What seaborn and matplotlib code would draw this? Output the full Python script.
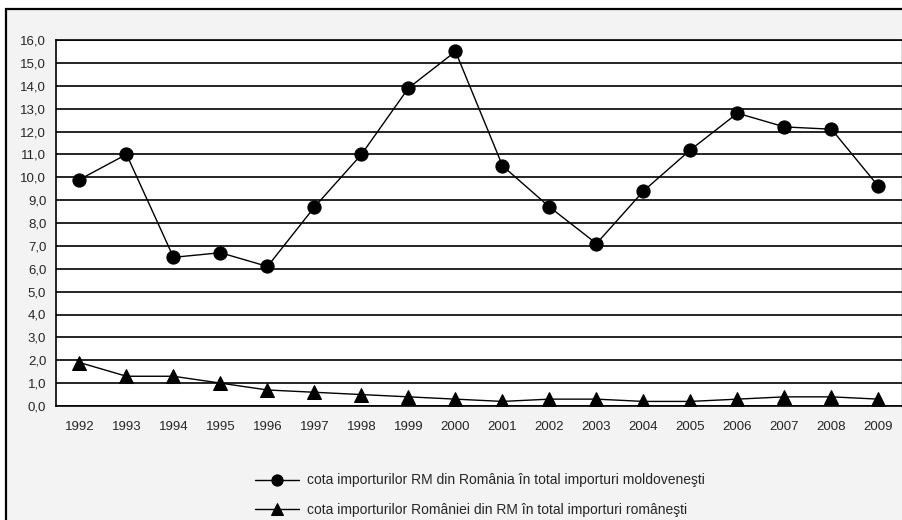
import numpy as np
import pandas as pd
import matplotlib
matplotlib.use("Agg")
import matplotlib.pyplot as plt
import seaborn as sns
from matplotlib.patches import Rectangle

years = [str(y) for y in range(1992, 2010)]
cota_rm = [9.9, 11.0, 6.5, 6.7, 6.1, 8.7, 11.0, 13.9, 15.5, 10.5,
           8.7, 7.1, 9.4, 11.2, 12.8, 12.2, 12.1, 9.6]
cota_ro = [1.9, 1.3, 1.3, 1.0, 0.7, 0.6, 0.5, 0.4, 0.3, 0.2,
           0.3, 0.3, 0.2, 0.2, 0.3, 0.4, 0.4, 0.3]
label_rm = "cota importurilor RM din România în total importuri moldoveneşti"
label_ro = "cota importurilor României din RM în total importuri româneşti"

sns.set_style("white")
plt.rcParams['font.family'] = ['Liberation Sans', 'DejaVu Sans']

fig = plt.figure(figsize=(9.03, 5.2), dpi=100, facecolor="white")
fig.patches.append(Rectangle((6/903, -0.05), 1.0, 1.05 - 9/520,
                             transform=fig.transFigure, facecolor="#f3f3f3",
                             edgecolor="black", linewidth=1.6, zorder=-10))
ax = fig.add_axes([56/903, 1 - 406/520, 846/903, 366/520])
ax.set_facecolor("white")

x = np.arange(len(years))
df = pd.DataFrame({"x": np.concatenate([x, x]),
                   "val": cota_rm + cota_ro,
                   "serie": [label_rm] * len(x) + [label_ro] * len(x)})

sns.lineplot(data=df, x="x", y="val", hue="serie", style="serie",
             markers={label_rm: "o", label_ro: "^"}, dashes=False,
             palette={label_rm: "black", label_ro: "black"},
             markersize=9.5, linewidth=1.0, markeredgecolor="black", ax=ax)

ax.set_xlim(-0.5, len(years) - 0.5)
ax.set_ylim(0, 16)
ax.set_yticks(np.arange(0, 17, 1))
ax.set_yticklabels([f"{v:.1f}".replace(".", ",") for v in range(17)], fontsize=9.5)
ax.set_xticks(x)
ax.set_xticklabels(years, fontsize=9.5)
ax.set_xticks(np.arange(-0.5, len(years), 1), minor=True)
ax.tick_params(axis="x", which="major", length=0, pad=11)
ax.tick_params(axis="x", which="minor", length=5, width=1, color="black", direction="out")
ax.tick_params(axis="y", length=5, width=1, color="black", direction="out", pad=2)
ax.yaxis.grid(True, color="black", linewidth=1.2)
ax.set_axisbelow(True)
ax.set_xlabel("")
ax.set_ylabel("")
for side in ["left", "bottom", "top"]:
    ax.spines[side].set_color("black")
    ax.spines[side].set_linewidth(1.2)
ax.spines["right"].set_color("#555555")
ax.spines["right"].set_linewidth(1.0)

ax.legend_.remove()
h, l = ax.get_legend_handles_labels()
fig.legend(h, l, loc="center", bbox_to_anchor=(480/903, 1 - 495/520),
           frameon=False, fontsize=10, handlelength=3.2, labelspacing=1.1,
           handletextpad=0.6, markerscale=0.85)

fig.savefig("out.png", dpi=100, facecolor=fig.get_facecolor())
